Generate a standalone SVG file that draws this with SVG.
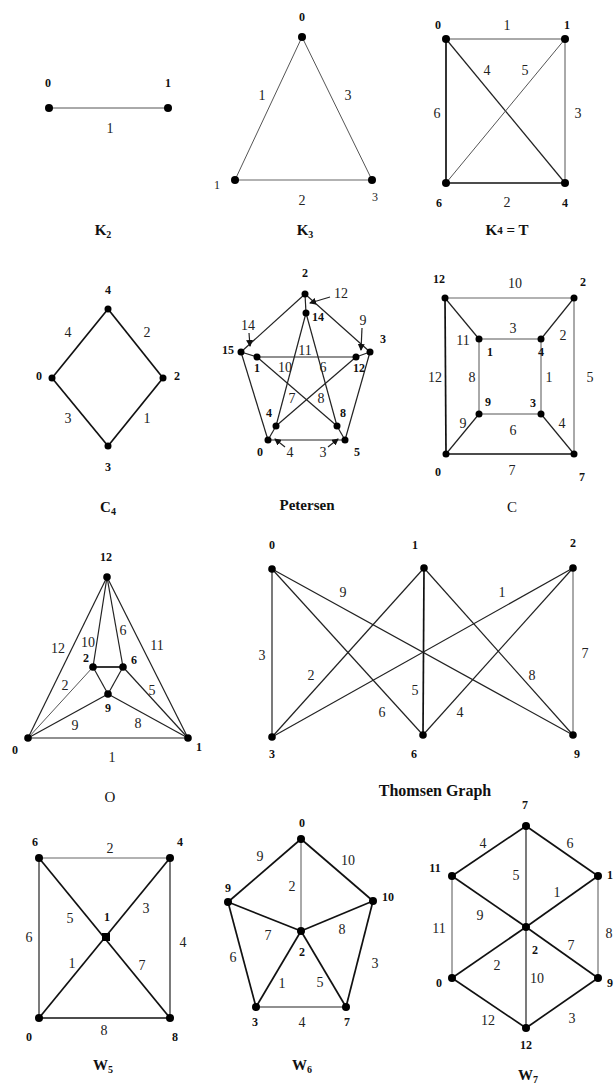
<svg xmlns="http://www.w3.org/2000/svg" width="615" height="1085" viewBox="0 0 615 1085">
<style>
text{font-family:"Liberation Serif","Times New Roman",serif;text-anchor:middle;dominant-baseline:central;fill:#111}
.n{font-weight:bold;font-size:12px}
.e{font-size:14px;fill:#222}
.t{font-weight:bold;font-size:15px}
.edges line,.edges polyline{stroke:#222;stroke-width:1.2;fill:none}
.thin{stroke:#555!important;stroke-width:1!important}
.lt{stroke:#999!important;stroke-width:1.6!important}
.bold{stroke:#111!important;stroke-width:1.7!important}
circle{fill:#000}
</style>
<defs>
<marker id="ah" markerWidth="7" markerHeight="7" refX="6" refY="3.5" orient="auto" markerUnits="userSpaceOnUse">
<path d="M0,0 L7,3.5 L0,7 Z" fill="#111"/>
</marker>
</defs>

<!-- K2 -->
<g id="K2">
<g class="edges"><line class="thin" x1="49" y1="108" x2="168" y2="108"/></g>
<circle cx="49" cy="108" r="4"/><circle cx="168" cy="108" r="4"/>
<text class="n" x="48" y="83">0</text><text class="n" x="168" y="83">1</text>
<text class="e" x="110" y="128">1</text>
<text class="t" x="103" y="230">K<tspan font-size="10" dy="4">2</tspan></text>
</g>

<!-- K3 -->
<g id="K3">
<g class="edges">
<line class="thin" x1="302" y1="37" x2="235" y2="180"/>
<line class="thin" x1="302" y1="37" x2="372" y2="180"/>
<line class="lt" x1="235" y1="180" x2="372" y2="180"/>
</g>
<circle cx="302" cy="37" r="4"/><circle cx="235" cy="180" r="4"/><circle cx="372" cy="180" r="4"/>
<text class="n" x="302" y="17">0</text>
<text class="e" x="217" y="185" style="font-size:12px">1</text>
<text class="e" x="375" y="197" style="font-size:12px">3</text>
<text class="e" x="262" y="95">1</text><text class="e" x="348" y="95">3</text><text class="e" x="302" y="200">2</text>
<text class="t" x="305" y="230">K<tspan font-size="10" dy="4">3</tspan></text>
</g>

<!-- K4 = T -->
<g id="K4">
<g class="edges">
<line class="thin" x1="446" y1="39" x2="565" y2="39"/>
<line class="bold" x1="446" y1="39" x2="446" y2="183"/>
<line class="thin" x1="565" y1="39" x2="565" y2="183"/>
<line class="bold" x1="446" y1="183" x2="565" y2="183"/>
<line x1="446" y1="39" x2="565" y2="183"/>
<line class="thin" x1="565" y1="39" x2="446" y2="183"/>
</g>
<circle cx="446" cy="39" r="4"/><circle cx="565" cy="39" r="4"/><circle cx="446" cy="183" r="4"/><circle cx="565" cy="183" r="4"/>
<text class="n" x="438" y="25">0</text><text class="n" x="567" y="25">1</text>
<text class="n" x="439" y="203">6</text><text class="n" x="565" y="203">4</text>
<text class="e" x="507" y="25">1</text><text class="e" x="487" y="70">4</text><text class="e" x="525" y="70">5</text>
<text class="e" x="437" y="113">6</text><text class="e" x="578" y="113">3</text><text class="e" x="507" y="202">2</text>
<text class="t" x="507" y="230">K<tspan font-size="11">4</tspan> = T</text>
</g>

<!-- C4 -->
<g id="C4">
<g class="edges">
<line class="bold" x1="108" y1="309" x2="52" y2="378"/>
<line class="bold" x1="108" y1="309" x2="163" y2="378"/>
<line class="bold" x1="52" y1="378" x2="108" y2="446"/>
<line class="bold" x1="163" y1="378" x2="108" y2="446"/>
</g>
<circle cx="108" cy="309" r="3.5"/><circle cx="52" cy="378" r="3.5"/><circle cx="163" cy="378" r="3.5"/><circle cx="108" cy="446" r="3.5"/>
<text class="n" x="108" y="290">4</text><text class="n" x="39" y="376">0</text>
<text class="n" x="177" y="376">2</text><text class="n" x="108" y="467">3</text>
<text class="e" x="68" y="332">4</text><text class="e" x="147" y="332">2</text>
<text class="e" x="68" y="418">3</text><text class="e" x="147" y="418">1</text>
<text class="t" x="108" y="507">C<tspan font-size="10" dy="4">4</tspan></text>
</g>

<!-- Petersen -->
<g id="Petersen">
<g class="edges">
<line x1="305" y1="294" x2="241" y2="352"/>
<line x1="305" y1="294" x2="370" y2="352"/>
<line x1="241" y1="352" x2="268" y2="440"/>
<line x1="370" y1="352" x2="345" y2="440"/>
<line x1="268" y1="440" x2="345" y2="440"/>
<line x1="305" y1="294" x2="306" y2="313"/>
<line x1="241" y1="352" x2="257" y2="357"/>
<line x1="370" y1="352" x2="356" y2="357"/>
<line x1="268" y1="440" x2="276" y2="426"/>
<line x1="345" y1="440" x2="337" y2="426"/>
<line x1="306" y1="313" x2="276" y2="426"/>
<line x1="306" y1="313" x2="337" y2="426"/>
<line x1="257" y1="357" x2="356" y2="357"/>
<line x1="257" y1="357" x2="337" y2="426"/>
<line x1="356" y1="357" x2="276" y2="426"/>
<line x1="330" y1="297" x2="310" y2="303" marker-end="url(#ah)"/>
<line x1="249" y1="333" x2="250" y2="346" marker-end="url(#ah)"/>
<line x1="362" y1="328" x2="361" y2="350" marker-end="url(#ah)"/>
<line x1="285" y1="447" x2="275" y2="439" marker-end="url(#ah)"/>
<line x1="328" y1="447" x2="338" y2="439" marker-end="url(#ah)"/>
</g>
<circle cx="305" cy="294" r="3.5"/><circle cx="241" cy="352" r="3.5"/><circle cx="370" cy="352" r="3.5"/>
<circle cx="268" cy="440" r="3.5"/><circle cx="345" cy="440" r="3.5"/>
<circle cx="306" cy="313" r="3.5"/><circle cx="257" cy="357" r="3.5"/><circle cx="356" cy="357" r="3.5"/>
<circle cx="276" cy="426" r="3.5"/><circle cx="337" cy="426" r="3.5"/>
<text class="n" x="305" y="273">2</text><text class="n" x="318" y="317">14</text>
<text class="n" x="228" y="350">15</text><text class="n" x="257" y="368">1</text>
<text class="n" x="359" y="368">12</text><text class="n" x="383" y="339">3</text>
<text class="n" x="269" y="413">4</text><text class="n" x="343" y="413">8</text>
<text class="n" x="260" y="452">0</text><text class="n" x="357" y="452">5</text>
<text class="e" x="341" y="293">12</text><text class="e" x="248" y="325">14</text>
<text class="e" x="363" y="320">9</text><text class="e" x="305" y="350">11</text>
<text class="e" x="285" y="367">10</text><text class="e" x="323" y="367">6</text>
<text class="e" x="292" y="398">7</text><text class="e" x="321" y="398">8</text>
<text class="e" x="290" y="452">4</text><text class="e" x="323" y="452">3</text>
<text class="t" x="307" y="505">Petersen</text>
</g>

<!-- C -->
<g id="C">
<g class="edges">
<line class="lt" x1="445" y1="298" x2="574" y2="298"/>
<line class="bold" x1="445" y1="298" x2="446" y2="454"/>
<line class="thin" x1="574" y1="298" x2="574" y2="454"/>
<line class="bold" x1="446" y1="454" x2="574" y2="454"/>
<line x1="445" y1="298" x2="479" y2="339"/>
<line x1="574" y1="298" x2="541" y2="339"/>
<line x1="446" y1="454" x2="479" y2="414"/>
<line x1="574" y1="454" x2="541" y2="414"/>
<line class="thin" x1="479" y1="339" x2="541" y2="339"/>
<line class="thin" x1="541" y1="339" x2="541" y2="414"/>
<line class="thin" x1="541" y1="414" x2="479" y2="414"/>
<line class="thin" x1="479" y1="414" x2="479" y2="339"/>
</g>
<circle cx="445" cy="298" r="3.5"/><circle cx="574" cy="298" r="3.5"/><circle cx="446" cy="454" r="3.5"/><circle cx="574" cy="454" r="3.5"/>
<circle cx="479" cy="339" r="3.5"/><circle cx="541" cy="339" r="3.5"/><circle cx="479" cy="414" r="3.5"/><circle cx="541" cy="414" r="3.5"/>
<text class="n" x="439" y="279">12</text><text class="n" x="583" y="282">2</text>
<text class="n" x="438" y="472">0</text><text class="n" x="582" y="477">7</text>
<text class="e" x="463" y="340">11</text>
<text class="n" x="490" y="352">1</text><text class="n" x="541" y="352">4</text>
<text class="n" x="488" y="402">9</text><text class="n" x="533" y="403">3</text>
<text class="e" x="515" y="283">10</text><text class="e" x="513" y="328">3</text><text class="e" x="563" y="335">2</text>
<text class="e" x="435" y="377">12</text><text class="e" x="472" y="377">8</text><text class="e" x="549" y="377">1</text>
<text class="e" x="590" y="377">5</text><text class="e" x="463" y="423">9</text><text class="e" x="513" y="430">6</text>
<text class="e" x="562" y="423">4</text><text class="e" x="512" y="470">7</text>
<text class="t" x="512" y="507" style="font-weight:normal">C</text>
</g>

<!-- O -->
<g id="O">
<g class="edges">
<line x1="107" y1="577" x2="28" y2="738"/>
<line x1="107" y1="577" x2="188" y2="738"/>
<line x1="107" y1="577" x2="93" y2="667"/>
<line x1="107" y1="577" x2="123" y2="667"/>
<line x1="28" y1="738" x2="188" y2="738"/>
<line class="bold" x1="93" y1="667" x2="123" y2="667"/>
<line x1="93" y1="667" x2="108" y2="694"/>
<line x1="123" y1="667" x2="108" y2="694"/>
<line class="thin" x1="93" y1="667" x2="28" y2="738"/>
<line x1="123" y1="667" x2="188" y2="738"/>
<line x1="108" y1="694" x2="28" y2="738"/>
<line x1="108" y1="694" x2="188" y2="738"/>
</g>
<circle cx="107" cy="577" r="3.8"/><circle cx="28" cy="738" r="3.8"/><circle cx="188" cy="738" r="3.8"/>
<circle cx="93" cy="667" r="3.8"/><circle cx="123" cy="667" r="3.8"/><circle cx="108" cy="694" r="3.8"/>
<text class="n" x="106" y="557">12</text><text class="n" x="86" y="658">2</text>
<text class="n" x="134" y="660">6</text><text class="n" x="108" y="708">9</text>
<text class="n" x="15" y="750">0</text><text class="n" x="199" y="747">1</text>
<text class="e" x="58" y="648">12</text><text class="e" x="88" y="642">10</text>
<text class="e" x="123" y="630">6</text><text class="e" x="157" y="645">11</text>
<text class="e" x="65" y="685">2</text><text class="e" x="152" y="690">5</text>
<text class="e" x="75" y="725">9</text><text class="e" x="138" y="723">8</text>
<text class="e" x="112" y="757">1</text>
<text class="t" x="110" y="797" style="font-weight:normal">O</text>
</g>

<!-- Thomsen Graph -->
<g id="Thomsen">
<g class="edges">
<line x1="272" y1="569" x2="272" y2="737"/>
<line x1="272" y1="569" x2="423" y2="735"/>
<line x1="272" y1="569" x2="573" y2="735"/>
<line x1="424" y1="568" x2="272" y2="737"/>
<line class="bold" x1="424" y1="568" x2="423" y2="735"/>
<line x1="424" y1="568" x2="573" y2="735"/>
<line x1="573" y1="568" x2="272" y2="737"/>
<line x1="573" y1="568" x2="423" y2="735"/>
<line class="thin" x1="573" y1="568" x2="573" y2="735"/>
</g>
<circle cx="272" cy="569" r="3.8"/><circle cx="424" cy="568" r="3.8"/><circle cx="573" cy="568" r="3.8"/>
<circle cx="272" cy="737" r="3.8"/><circle cx="423" cy="735" r="3.8"/><circle cx="573" cy="735" r="3.8"/>
<text class="n" x="272" y="545">0</text><text class="n" x="415" y="545">1</text><text class="n" x="573" y="543">2</text>
<text class="n" x="272" y="754">3</text><text class="n" x="414" y="754">6</text><text class="n" x="577" y="754">9</text>
<text class="e" x="343" y="592">9</text><text class="e" x="502" y="592">1</text>
<text class="e" x="262" y="655">3</text><text class="e" x="585" y="653">7</text>
<text class="e" x="311" y="675">2</text><text class="e" x="532" y="675">8</text>
<text class="e" x="415" y="690">5</text><text class="e" x="382" y="712">6</text><text class="e" x="460" y="712">4</text>
<text class="t" x="435" y="790" style="font-size:16px">Thomsen Graph</text>
</g>

<!-- W5 -->
<g id="W5">
<g class="edges">
<line class="lt" x1="39" y1="858" x2="170" y2="858"/>
<line x1="39" y1="858" x2="39" y2="1018"/>
<line x1="170" y1="858" x2="170" y2="1018"/>
<line class="bold" x1="39" y1="1018" x2="170" y2="1018"/>
<line class="bold" x1="39" y1="858" x2="170" y2="1018"/>
<line class="bold" x1="170" y1="858" x2="39" y2="1018"/>
</g>
<circle cx="39" cy="858" r="4"/><circle cx="170" cy="858" r="4"/><circle cx="39" cy="1018" r="4"/><circle cx="170" cy="1018" r="4"/>
<rect x="102" y="933" width="8" height="8"/>
<text class="n" x="35" y="842">6</text><text class="n" x="180" y="842">4</text>
<text class="n" x="29" y="1037">0</text><text class="n" x="175" y="1037">8</text>
<text class="n" x="107" y="917">1</text>
<text class="e" x="110" y="848">2</text><text class="e" x="70" y="918">5</text><text class="e" x="146" y="908">3</text>
<text class="e" x="29" y="937">6</text><text class="e" x="183" y="942">4</text>
<text class="e" x="72" y="963">1</text><text class="e" x="142" y="965">7</text><text class="e" x="104" y="1030">8</text>
<text class="t" x="103" y="1065">W<tspan font-size="10" dy="4">5</tspan></text>
</g>

<!-- W6 -->
<g id="W6">
<g class="edges">
<line class="bold" x1="301" y1="839" x2="228" y2="902"/>
<line class="bold" x1="301" y1="839" x2="373" y2="901"/>
<line class="thin" x1="301" y1="839" x2="301" y2="931"/>
<line class="bold" x1="228" y1="902" x2="301" y2="931"/>
<line class="bold" x1="373" y1="901" x2="301" y2="931"/>
<line class="bold" x1="228" y1="902" x2="256" y2="1007"/>
<line class="bold" x1="373" y1="901" x2="346" y2="1007"/>
<line class="bold" x1="256" y1="1007" x2="301" y2="931"/>
<line class="bold" x1="346" y1="1007" x2="301" y2="931"/>
<line x1="256" y1="1007" x2="346" y2="1007"/>
</g>
<circle cx="301" cy="839" r="4"/><circle cx="228" cy="902" r="4"/><circle cx="373" cy="901" r="4"/>
<circle cx="301" cy="931" r="4"/><circle cx="256" cy="1007" r="4"/><circle cx="346" cy="1007" r="4"/>
<text class="n" x="302" y="823">0</text><text class="n" x="228" y="888">9</text>
<text class="n" x="388" y="897">10</text><text class="n" x="302" y="952">2</text>
<text class="n" x="255" y="1022">3</text><text class="n" x="347" y="1022">7</text>
<text class="e" x="260" y="856">9</text><text class="e" x="348" y="860">10</text>
<text class="e" x="292" y="886">2</text><text class="e" x="268" y="935">7</text>
<text class="e" x="342" y="929">8</text><text class="e" x="233" y="957">6</text>
<text class="e" x="375" y="963">3</text><text class="e" x="282" y="983">1</text>
<text class="e" x="320" y="982">5</text><text class="e" x="302" y="1022">4</text>
<text class="t" x="302" y="1065">W<tspan font-size="10" dy="4">6</tspan></text>
</g>

<!-- W7 -->
<g id="W7">
<g class="edges">
<line class="bold" x1="526" y1="826" x2="452" y2="876"/>
<line class="bold" x1="526" y1="826" x2="598" y2="876"/>
<line x1="526" y1="826" x2="526" y2="927"/>
<line class="thin" x1="452" y1="876" x2="452" y2="978"/>
<line class="thin" x1="598" y1="876" x2="598" y2="978"/>
<line class="bold" x1="452" y1="876" x2="526" y2="927"/>
<line class="bold" x1="598" y1="876" x2="526" y2="927"/>
<line class="bold" x1="452" y1="978" x2="526" y2="927"/>
<line class="bold" x1="598" y1="978" x2="526" y2="927"/>
<line x1="526" y1="927" x2="526" y2="1028"/>
<line class="bold" x1="452" y1="978" x2="526" y2="1028"/>
<line class="bold" x1="598" y1="978" x2="526" y2="1028"/>
</g>
<circle cx="526" cy="826" r="4"/><circle cx="452" cy="876" r="4"/><circle cx="598" cy="876" r="4"/>
<circle cx="526" cy="927" r="4"/><circle cx="452" cy="978" r="4"/><circle cx="598" cy="978" r="4"/><circle cx="526" cy="1028" r="4"/>
<text class="n" x="525" y="805">7</text><text class="n" x="435" y="868">11</text>
<text class="n" x="610" y="875">1</text><text class="n" x="439" y="983">0</text>
<text class="n" x="610" y="983">9</text><text class="n" x="526" y="1045">12</text>
<text class="n" x="535" y="950">2</text>
<text class="e" x="483" y="843">4</text><text class="e" x="570" y="843">6</text>
<text class="e" x="516" y="875">5</text><text class="e" x="557" y="892">1</text>
<text class="e" x="480" y="915">9</text><text class="e" x="439" y="928">11</text>
<text class="e" x="609" y="933">8</text><text class="e" x="571" y="945">7</text>
<text class="e" x="497" y="965">2</text><text class="e" x="537" y="978">10</text>
<text class="e" x="488" y="1020">12</text><text class="e" x="572" y="1018">3</text>
<text class="t" x="528" y="1075">W<tspan font-size="10" dy="4">7</tspan></text>
</g>
</svg>
